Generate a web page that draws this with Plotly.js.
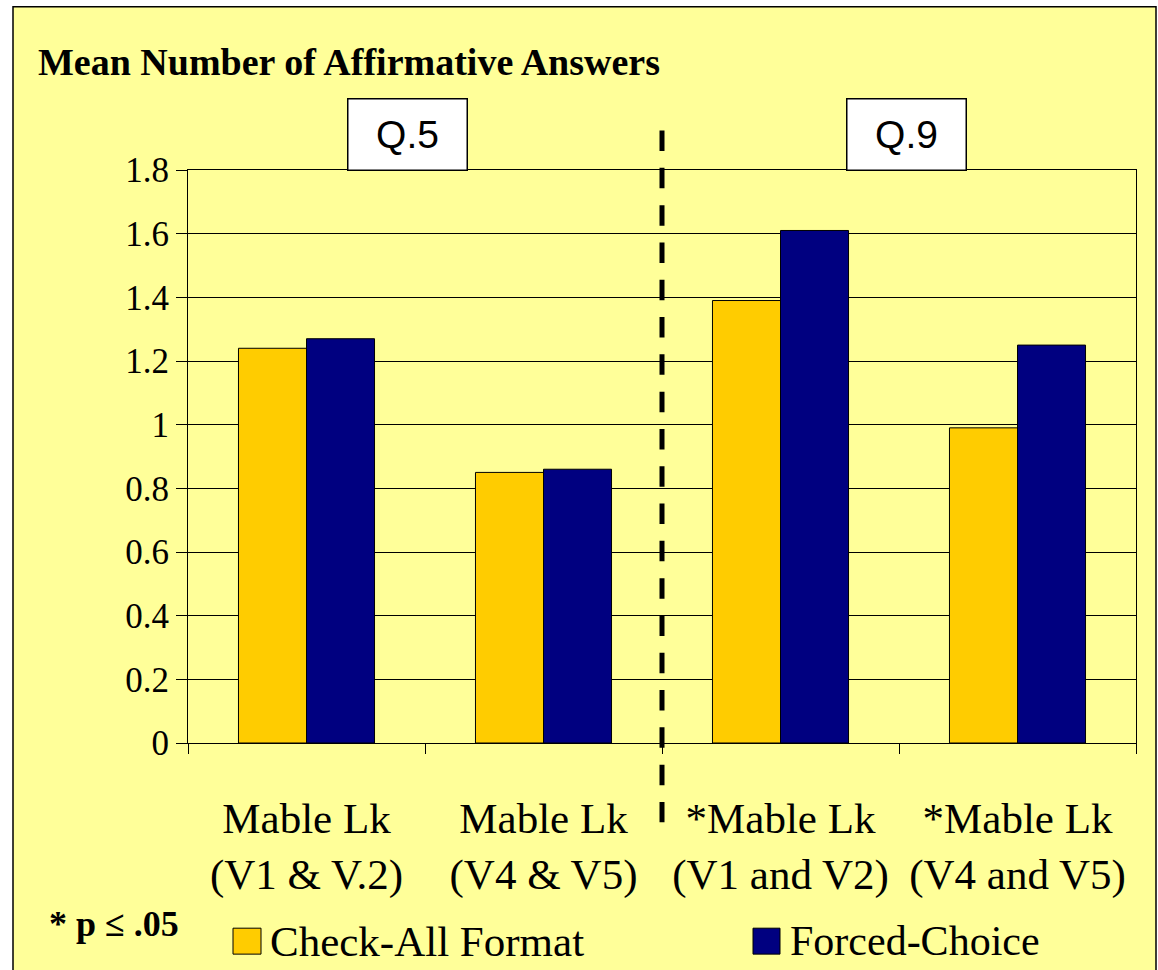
<!DOCTYPE html>
<html>
<head>
<meta charset="utf-8">
<script src="https://cdn.plot.ly/plotly-3.0.1.min.js"></script>
<style>
html,body{margin:0;padding:0;background:#ffffff;}
#chart{width:1158px;height:970px;}
</style>
</head>
<body>
<div id="chart"></div>
<script>
// ---- data ----
const categories = [
  "Mable Lk<br>(V1 & V.2)",
  "Mable Lk<br>(V4 & V5)",
  "*Mable Lk<br>(V1 and V2)",
  "*Mable Lk<br>(V4 and V5)"
];
const seriesNames = ["Check-All Format", "Forced-Choice"];
const checkAll = [1.24, 0.85, 1.39, 0.99];
const forcedChoice = [1.27, 0.86, 1.61, 1.25];
const seriesColors = ["#FFCC00", "#000080"];
const yTickVals = [0, 0.2, 0.4, 0.6, 0.8, 1, 1.2, 1.4, 1.6, 1.8];
const yTickText = ["0", "0.2", "0.4", "0.6", "0.8", "1", "1.2", "1.4", "1.6", "1.8"];
const panelLabels = ["Q.5", "Q.9"];
const titleText = "Mean Number of Affirmative Answers";
const noteText = "* p \u2264 .05";

const SERIF = "Liberation Serif, Times New Roman, serif";
const SANS = "Liberation Sans, Arial, sans-serif";

const traces = [
  {type: "bar", name: seriesNames[0], x: categories, y: checkAll,
   marker: {color: seriesColors[0], line: {color: "#000000", width: 1}},
   showlegend: false, hoverinfo: "y"},
  {type: "bar", name: seriesNames[1], x: categories, y: forcedChoice,
   marker: {color: seriesColors[1], line: {color: "#000000", width: 1}},
   showlegend: false, hoverinfo: "y"}
];

// plot area: x 188..1136, y 169.5..743.5
const L = 188, R = 1136, T = 169.5, B = 743.5;
const W = R - L, H = B - T;
const px = v => (v - L) / W;
const py = v => (B - v) / H;

const layout = {
  width: 1158, height: 970,
  margin: {l: L, r: 1158 - R, t: T, b: 970 - B, pad: 0},
  paper_bgcolor: "#ffffff",
  plot_bgcolor: "rgba(0,0,0,0)",
  barmode: "group",
  bargap: 0.426,
  bargroupgap: 0,
  showlegend: false,
  font: {family: SERIF, color: "#000000"},
  xaxis: {
    type: "category",
    tickson: "boundaries",
    ticks: "outside", ticklen: 10, tickwidth: 1, tickcolor: "#000000",
    showline: true, linecolor: "#000000", linewidth: 1, mirror: true,
    showgrid: false, zeroline: false,
    tickfont: {family: SERIF, size: 43, color: "#000000"},
    ticklabelstandoff: 37
  },
  yaxis: {
    range: [0, 1.8],
    tickmode: "array", tickvals: yTickVals, ticktext: yTickText,
    ticks: "outside", ticklen: 11, tickwidth: 1, tickcolor: "#000000",
    showline: true, linecolor: "#000000", linewidth: 1, mirror: true,
    showgrid: true, gridcolor: "#000000", gridwidth: 1,
    zeroline: false,
    tickfont: {family: SERIF, size: 35, color: "#000000"},
    ticklabelstandoff: 0
  },
  shapes: [
    // chart area background + border
    {type: "rect", xref: "paper", yref: "paper", layer: "below",
     x0: px(13), x1: px(1156), y0: py(1000), y1: py(6),
     fillcolor: "#FFFF99", line: {color: "#000000", width: 1.5}},
    // dashed separator between Q.5 and Q.9
    {type: "line", xref: "x", yref: "paper", layer: "above",
     x0: 1.5, x1: 1.5, y0: py(130), y1: py(823),
     line: {color: "#000000", width: 5, dash: "20.5px,16.8px"}},
    // legend swatches
    {type: "rect", xref: "paper", yref: "paper",
     x0: px(233), x1: px(261), y0: py(955), y1: py(929),
     fillcolor: seriesColors[0], line: {color: "#000000", width: 1}},
    {type: "rect", xref: "paper", yref: "paper",
     x0: px(753), x1: px(780), y0: py(955), y1: py(929),
     fillcolor: seriesColors[1], line: {color: "#000000", width: 1}}
  ],
  annotations: [
    {text: "<b>" + titleText + "</b>", xref: "paper", yref: "paper",
     x: px(36), y: py(61), xanchor: "left", yanchor: "middle", showarrow: false,
     font: {family: SERIF, size: 38, color: "#000000"}},
    {text: panelLabels[0], xref: "paper", yref: "paper",
     x: px(407.5), y: py(133.5), xanchor: "center", yanchor: "middle", showarrow: false,
     width: 118, height: 70, borderpad: 0, bgcolor: "#ffffff",
     bordercolor: "#000000", borderwidth: 1.5,
     font: {family: SANS, size: 39, color: "#000000"}},
    {text: panelLabels[1], xref: "paper", yref: "paper",
     x: px(906.5), y: py(133.5), xanchor: "center", yanchor: "middle", showarrow: false,
     width: 118, height: 70, borderpad: 0, bgcolor: "#ffffff",
     bordercolor: "#000000", borderwidth: 1.5,
     font: {family: SANS, size: 39, color: "#000000"}},
    {text: "<b>" + noteText + "</b>", xref: "paper", yref: "paper",
     x: px(47), y: py(925), xanchor: "left", yanchor: "middle", showarrow: false,
     font: {family: SERIF, size: 36, color: "#000000"}},
    {text: seriesNames[0], xref: "paper", yref: "paper",
     x: px(268), y: py(942), xanchor: "left", yanchor: "middle", showarrow: false,
     font: {family: SERIF, size: 43, color: "#000000"}},
    {text: seriesNames[1], xref: "paper", yref: "paper",
     x: px(788), y: py(942), xanchor: "left", yanchor: "middle", showarrow: false,
     font: {family: SERIF, size: 42, color: "#000000"}}
  ]
};

Plotly.newPlot("chart", traces, layout, {displayModeBar: false, staticPlot: true});
</script>
</body>
</html>
